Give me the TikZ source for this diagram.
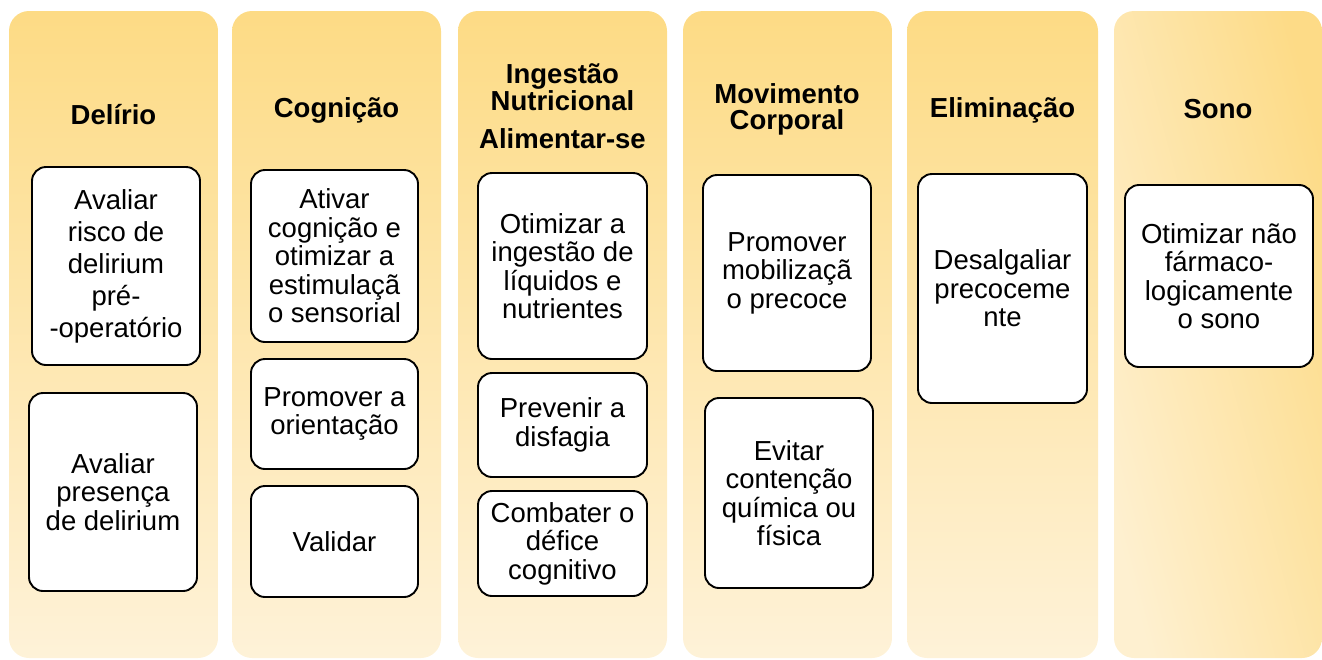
\documentclass[tikz,border=0pt]{standalone}
\usepackage{fontspec}
\setmainfont{Liberation Sans}
\definecolor{colTop}{RGB}{253,219,133}
\definecolor{colBot}{RGB}{254,242,216}
\definecolor{sonoL}{RGB}{254,240,208}
\definecolor{sonoR}{RGB}{253,219,135}
\tikzset{
  lane/.style={rounded corners=20pt, top color=colTop, bottom color=colBot, draw=none},
  itembox/.style={draw=black, fill=white, line width=1.9pt, rounded corners=14pt,
    align=center, inner sep=0pt, font=\fontsize{27.5}{28.5}\selectfont},
  ttl/.style={font=\fontsize{27.5}{26}\selectfont\bfseries, inner sep=0pt, anchor=base}
}
\begin{document}
\begin{tikzpicture}[x=1pt,y=-1pt]
\useasboundingbox (0,0) rectangle (1322,659);
% lanes
\path[lane] (9,11) rectangle (218,658);
\path[lane] (232,11) rectangle (441,658);
\path[lane] (458,11) rectangle (667,658);
\path[lane] (683,11) rectangle (892,658);
\path[lane] (907,11) rectangle (1098,658);
\path[rounded corners=20pt, left color=sonoL, right color=sonoR, shading angle=105] (1114,11) rectangle (1322,658);
% titles
\node[ttl] (t1) at (113.5,124) {Delírio};
\node[ttl] (t2) at (336.5,117) {Cognição};
\node[ttl] (t3a) at (562.5,83) {Ingestão};
\node[ttl] (t3b) at (562.5,110) {Nutricional};
\node[ttl] (t3c) at (562.5,148) {Alimentar-se};
\node[ttl] (t4a) at (787,103) {Movimento};
\node[ttl] (t4b) at (787,129) {Corporal};
\node[ttl] (t5) at (1002.5,117) {Eliminação};
\node[ttl] (t6) at (1218,118) {Sono};
% boxes
\node[itembox, minimum width=168pt, minimum height=198pt, font=\fontsize{27.5}{32}\selectfont] (b11) at (116,266) {Avaliar\\risco de\\delirium\\pré-\\-operatório};
\node[itembox, minimum width=168pt, minimum height=198pt] (b12) at (113,492) {Avaliar\\presença\\de delirium};
\node[itembox, minimum width=167pt, minimum height=172pt] (b21) at (334.5,256) {Ativar\\cognição e\\otimizar a\\estimulaçã\\o sensorial};
\node[itembox, minimum width=167pt, minimum height=110pt] (b22) at (334.5,414) {Promover a\\orientação};
\node[itembox, minimum width=167pt, minimum height=111pt] (b23) at (334.5,541.5) {Validar};
\node[itembox, minimum width=169pt, minimum height=186pt] (b31) at (562.5,266) {Otimizar a\\ingestão de\\líquidos e\\nutrientes};
\node[itembox, minimum width=169pt, minimum height=104pt] (b32) at (562.5,425) {Prevenir a\\disfagia};
\node[itembox, minimum width=169pt, minimum height=105pt] (b33) at (562.5,543.5) {Combater o\\défice\\cognitivo};
\node[itembox, minimum width=168pt, minimum height=196pt] (b41) at (787,273) {Promover\\mobilizaçã\\o precoce};
\node[itembox, minimum width=168pt, minimum height=190pt] (b42) at (789,493) {Evitar\\contenção\\química ou\\física};
\node[itembox, minimum width=169pt, minimum height=229pt] (b51) at (1002.5,288.5) {Desalgaliar\\precoceme\\nte};
\node[itembox, minimum width=188pt, minimum height=182pt] (b61) at (1219,276) {Otimizar não\\fármaco-\\logicamente\\o sono};
\end{tikzpicture}
\end{document}
